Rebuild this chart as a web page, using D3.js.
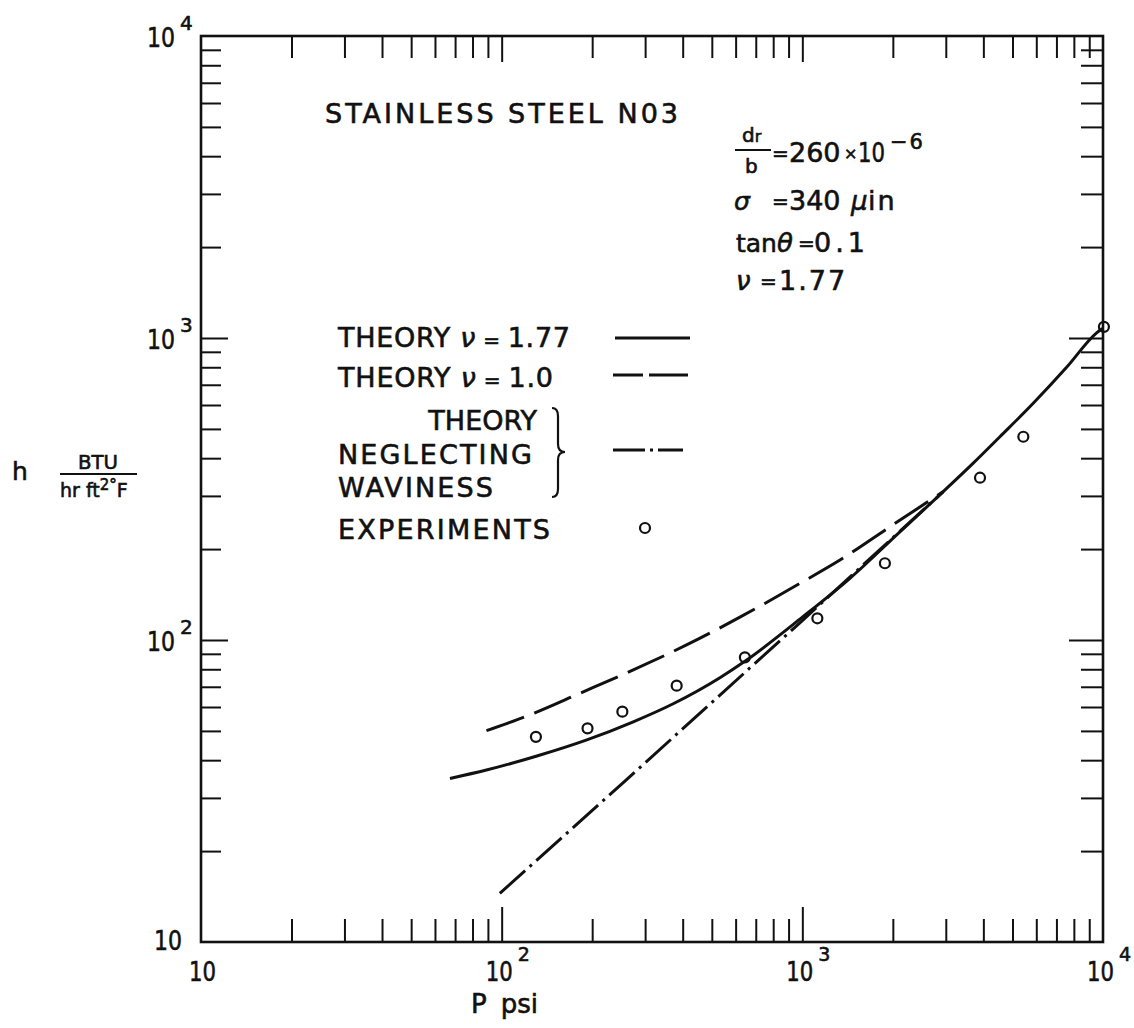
<!DOCTYPE html>
<html>
<head>
<meta charset="utf-8">
<script src="https://cdn.jsdelivr.net/npm/d3@7"></script>
<style>
  html, body { margin: 0; padding: 0; background: #fff; }
  svg text { font-family: "DejaVu Sans", "Liberation Sans", sans-serif; fill: #111; stroke: #111; stroke-width: 0.6px; }
</style>
</head>
<body>
<svg id="chart" width="1134" height="1028"></svg>
<script>
// ---------- DATA ----------
const majorTicks = [10, 100, 1000, 10000];
const majorTickLabels = ["", "2", "3", "4"];   // exponents (10 shown without one)

// Experiments
const expP = [130, 193, 252, 382, 644, 1122, 1882, 3899, 5433, 10070];
const expH = [47.8, 51.0, 57.9, 70.6, 87.6, 118.0, 179.5, 344.7, 471, 1089];

// Theory nu = 1.77 (solid)
const th177P = [67.3, 89, 131, 192, 274, 372, 532, 644, 1000, 1440, 2111, 2943, 3702, 4541, 5861, 7568, 9524, 9950];
const th177H = [34.8, 37.1, 41.3, 46.7, 53.6, 61.5, 75, 85, 119, 160, 228, 310, 385, 471, 608, 800, 1040, 1075];

// Theory nu = 1.0 (dashed)
const th10P = [89, 124, 182, 274, 412, 620, 982, 1334, 1955, 2943];
const th10H = [50.1, 56.5, 66.6, 79.6, 96.3, 119, 154, 184, 237, 310];

// Theory neglecting waviness (dash-dot)
const thNWP = [98.6, 257, 1000, 2943];
const thNWH = [14.5, 34.1, 116, 310];

// ---------- SETUP ----------
const svg = d3.select("#chart");
const L = 201, R = 1103, T = 36, B = 942;
const x = d3.scaleLog().domain([10, 1e4]).range([L, R]);
const y = d3.scaleLog().domain([10, 1e4]).range([B, T]);

const allTicks = x.ticks();
const minorTicks = allTicks.filter(v => !majorTicks.includes(v));
const innerMajor = [100, 1000];

function styleAxis(g, w) {
  g.select(".domain").remove();
  g.selectAll(".tick line").attr("stroke", "#111").attr("stroke-width", w);
  g.selectAll(".tick text").remove();
}
function addAxis(gen, tr, vals, size) {
  svg.append("g").attr("transform", tr)
    .call(gen.tickValues(vals).tickSize(size).tickFormat(""))
    .call(g => styleAxis(g, 2));
}
addAxis(d3.axisBottom(x), `translate(0,${B})`, minorTicks, -23);
addAxis(d3.axisBottom(x), `translate(0,${B})`, innerMajor, -35);
addAxis(d3.axisTop(x), `translate(0,${T})`, minorTicks, -22);
addAxis(d3.axisTop(x), `translate(0,${T})`, innerMajor, -26);
addAxis(d3.axisLeft(y), `translate(${L},0)`, minorTicks, -20);
addAxis(d3.axisLeft(y), `translate(${L},0)`, innerMajor, -27);
addAxis(d3.axisRight(y), `translate(${R},0)`, minorTicks, -22);
addAxis(d3.axisRight(y), `translate(${R},0)`, innerMajor, -34);

// frame
svg.append("rect").attr("x", L).attr("y", T).attr("width", R - L).attr("height", B - T)
  .attr("fill", "none").attr("stroke", "#111").attr("stroke-width", 2.6);

// ---------- TICK LABELS ----------
majorTicks.forEach((v, i) => {
  const sup = majorTickLabels[i];
  // x labels
  svg.append("text").attr("font-size", 27)
    .attr("x", x(v) - (sup ? 16 : 12)).attr("y", 981)
    .attr("textLength", 27).attr("lengthAdjust", "spacingAndGlyphs").text("10");
  if (sup) svg.append("text").attr("font-size", 19).attr("x", x(v) + 16).attr("y", 961).text(sup);
  // y labels
  if (sup) {
    svg.append("text").attr("font-size", 27).attr("x", L - 26).attr("y", y(v) + 11)
      .attr("text-anchor", "end").attr("textLength", 28).attr("lengthAdjust", "spacingAndGlyphs").text("10");
    svg.append("text").attr("font-size", 20).attr("x", L - 21).attr("y", y(v) - 6).text(sup);
  } else {
    svg.append("text").attr("font-size", 27).attr("x", L - 19).attr("y", y(v) + 8)
      .attr("text-anchor", "end").attr("textLength", 28).attr("lengthAdjust", "spacingAndGlyphs").text("10");
  }
});

// axis titles
const pt = svg.append("text").attr("font-size", 26).attr("x", 471).attr("y", 1013);
pt.append("tspan").text("P");
pt.append("tspan").attr("dx", 14).text("psi");
svg.append("text").attr("font-size", 25).attr("x", 12).attr("y", 480).text("h");
svg.append("text").attr("font-size", 20).attr("x", 98).attr("y", 469).attr("text-anchor", "middle")
  .attr("textLength", 40).attr("lengthAdjust", "spacingAndGlyphs").text("BTU");
svg.append("line").attr("x1", 60).attr("x2", 137).attr("y1", 474).attr("y2", 474)
  .attr("stroke", "#111").attr("stroke-width", 2.2);
const unitT = svg.append("text").attr("font-size", 19).attr("x", 60).attr("y", 497);
unitT.append("tspan").text("hr ft");
unitT.append("tspan").attr("font-size", 15).attr("dy", -7).text("2");
unitT.append("tspan").attr("font-size", 15).text("\u00B0");
unitT.append("tspan").attr("dy", 7).text("F");

// ---------- CURVES ----------
const line = d3.line().x(d => x(d[0])).y(d => y(d[1])).curve(d3.curveMonotoneX);
const mk = (P, Hh) => P.map((p, i) => [p, Hh[i]]);

svg.append("path").datum(mk(th177P, th177H)).attr("d", line)
  .attr("fill", "none").attr("stroke", "#111").attr("stroke-width", 3);
svg.append("path").datum(mk(th10P, th10H)).attr("d", line)
  .attr("fill", "none").attr("stroke", "#111").attr("stroke-width", 3)
  .attr("stroke-dasharray", "40,11");
svg.append("path").datum(mk(thNWP, thNWH)).attr("d", d3.line().x(d => x(d[0])).y(d => y(d[1])))
  .attr("fill", "none").attr("stroke", "#111").attr("stroke-width", 3)
  .attr("stroke-dasharray", "34,6,3,6");

svg.selectAll("circle.exp").data(mk(expP, expH)).enter().append("circle")
  .attr("class", "exp").attr("cx", d => x(d[0])).attr("cy", d => y(d[1])).attr("r", 5)
  .attr("fill", "none").attr("stroke", "#111").attr("stroke-width", 2.2);

// ---------- TITLE & PARAMETERS ----------
svg.append("text").attr("font-size", 27).attr("x", 325).attr("y", 123)
  .attr("textLength", 353).attr("lengthAdjust", "spacing").text("STAINLESS STEEL N03");

// d_r / b fraction
const dr = svg.append("text").attr("font-size", 20).attr("x", 742).attr("y", 142);
dr.append("tspan").text("d");
dr.append("tspan").attr("font-size", 16).text("r");
svg.append("line").attr("x1", 735).attr("x2", 771).attr("y1", 150).attr("y2", 150)
  .attr("stroke", "#111").attr("stroke-width", 2.2);
svg.append("text").attr("font-size", 20).attr("x", 745).attr("y", 173).text("b");
svg.append("text").attr("font-size", 20).attr("x", 772).attr("y", 160).text("=");
svg.append("text").attr("font-size", 27).attr("x", 789).attr("y", 162).text("260");
svg.append("text").attr("font-size", 16).attr("x", 844).attr("y", 159).text("\u00D7");
svg.append("text").attr("font-size", 27).attr("x", 858).attr("y", 162)
  .attr("textLength", 27).attr("lengthAdjust", "spacingAndGlyphs").text("10");
svg.append("text").attr("font-size", 21).attr("x", 890).attr("y", 149)
  .attr("letter-spacing", 2).text("\u22126");

// sigma row
svg.append("text").attr("font-size", 25).attr("font-style", "italic").attr("x", 734).attr("y", 210).text("\u03C3");
svg.append("text").attr("font-size", 20).attr("x", 772).attr("y", 208).text("=");
svg.append("text").attr("font-size", 27).attr("x", 789).attr("y", 210).text("340");
svg.append("text").attr("font-size", 26).attr("font-style", "italic").attr("x", 851).attr("y", 210).text("\u03BC");
svg.append("text").attr("font-size", 27).attr("x", 868).attr("y", 210)
  .attr("letter-spacing", 2).text("in");

// tan theta row
svg.append("text").attr("font-size", 25).attr("x", 736).attr("y", 252).text("tan");
svg.append("text").attr("font-size", 26).attr("font-style", "italic").attr("x", 777).attr("y", 252).text("\u03B8");
svg.append("text").attr("font-size", 20).attr("x", 798).attr("y", 250).text("=");
svg.append("text").attr("font-size", 27).attr("x", 814).attr("y", 252)
  .attr("letter-spacing", 4).text("0.1");

// nu row
svg.append("text").attr("font-size", 26).attr("font-style", "italic").attr("x", 736).attr("y", 290).text("\u03BD");
svg.append("text").attr("font-size", 20).attr("x", 760).attr("y", 288).text("=");
svg.append("text").attr("font-size", 27).attr("x", 779).attr("y", 290)
  .attr("letter-spacing", 2).text("1.77");

// ---------- LEGEND ----------
function legendLabel(xx, yy, parts, len) {
  const t = svg.append("text").attr("font-size", 27).attr("x", xx).attr("y", yy);
  if (len) t.attr("textLength", len).attr("lengthAdjust", "spacing");
  parts.forEach(p => {
    const s = t.append("tspan").text(p.t);
    if (p.i) s.attr("font-style", "italic");
    if (p.fs) s.attr("font-size", p.fs);
  });
  return t;
}
legendLabel(338, 347, [{t: "THEORY "}, {t: "\u03BD", i: true}, {t: " = ", fs: 20}, {t: "1.77"}], 232);
legendLabel(338, 387, [{t: "THEORY "}, {t: "\u03BD", i: true}, {t: " = ", fs: 20}, {t: "1.0"}], 215);
legendLabel(537, 430, [{t: "THEORY"}]).attr("text-anchor", "end");
legendLabel(338, 464, [{t: "NEGLECTING"}], 194);
legendLabel(338, 497, [{t: "WAVINESS"}], 155);
legendLabel(338, 539, [{t: "EXPERIMENTS"}], 212);

// brace
svg.append("path")
  .attr("d", "M552,408 Q558,408 558,416 L558,444 Q558,452 565,452 Q558,452 558,460 L558,489 Q558,497 552,497")
  .attr("fill", "none").attr("stroke", "#111").attr("stroke-width", 2.2);

// legend samples
svg.append("line").attr("x1", 615).attr("x2", 690).attr("y1", 338).attr("y2", 338)
  .attr("stroke", "#111").attr("stroke-width", 3);
svg.append("line").attr("x1", 613).attr("x2", 688).attr("y1", 375).attr("y2", 375)
  .attr("stroke", "#111").attr("stroke-width", 3).attr("stroke-dasharray", "30,6,40");
svg.append("line").attr("x1", 613).attr("x2", 683).attr("y1", 450).attr("y2", 450)
  .attr("stroke", "#111").attr("stroke-width", 3).attr("stroke-dasharray", "32,5,3,5,40");
svg.append("circle").attr("cx", 645).attr("cy", 528).attr("r", 5)
  .attr("fill", "none").attr("stroke", "#111").attr("stroke-width", 2.2);
</script>
</body>
</html>
